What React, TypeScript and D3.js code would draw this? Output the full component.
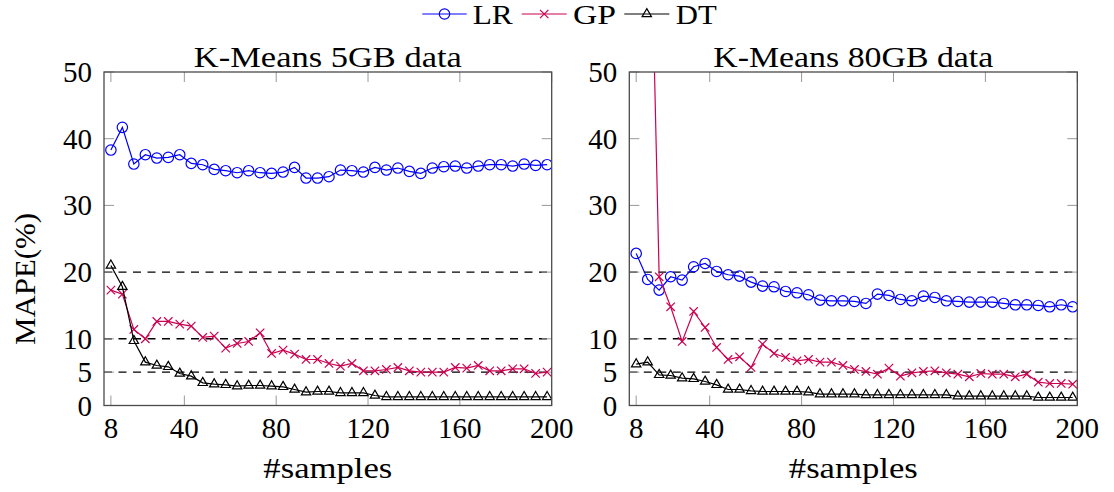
import React from "react";
import * as d3 from "d3";

// ---------- data ----------
const samples = [8, 13, 18, 23, 28, 33, 38, 43, 48, 53, 58, 63, 68, 73, 78, 83, 88, 93, 98, 103, 108, 113, 118, 123, 128, 133, 138, 143, 148, 153, 158, 163, 168, 173, 178, 183, 188, 193, 198];

const lr5GB = [38.3, 41.7, 36.2, 37.6, 37.1, 37.2, 37.6, 36.3, 36.1, 35.4, 35.2, 34.9, 35.2, 34.9, 34.8, 35.0, 35.7, 34.1, 34.1, 34.3, 35.3, 35.2, 35.0, 35.7, 35.3, 35.6, 35.1, 34.8, 35.6, 35.8, 35.9, 35.6, 35.9, 36.1, 36.1, 35.9, 36.2, 36.0, 36.1];
const gp5GB = [17.3, 16.7, 11.4, 10.0, 12.6, 12.6, 12.2, 11.9, 10.2, 10.4, 8.6, 9.3, 9.6, 10.9, 7.8, 8.3, 7.7, 6.9, 6.9, 6.3, 5.9, 6.3, 5.2, 5.2, 5.4, 5.7, 5.2, 5.0, 5.0, 5.0, 5.7, 5.6, 6.0, 5.2, 5.2, 5.5, 5.5, 4.8, 5.0];
const dt5GB = [21.0, 17.8, 9.7, 6.5, 6.0, 5.8, 4.8, 4.4, 3.4, 3.2, 3.1, 2.9, 3.0, 3.0, 2.9, 2.8, 2.4, 2.0, 2.1, 2.1, 1.9, 1.9, 1.9, 1.5, 1.3, 1.3, 1.3, 1.3, 1.3, 1.3, 1.3, 1.3, 1.3, 1.3, 1.3, 1.3, 1.3, 1.3, 1.3];

const lr80GB = [22.8, 18.9, 17.3, 19.3, 18.8, 20.8, 21.3, 20.1, 19.6, 19.4, 18.5, 17.9, 17.8, 17.1, 16.9, 16.6, 15.8, 15.7, 15.7, 15.6, 15.3, 16.7, 16.5, 15.9, 15.7, 16.4, 16.2, 15.7, 15.6, 15.5, 15.5, 15.5, 15.3, 15.1, 15.1, 15.0, 14.8, 15.1, 14.8];
const gp80GB = [120, 95, 19.3, 14.8, 9.6, 14.1, 11.7, 8.7, 6.9, 7.3, 5.7, 9.2, 7.8, 7.2, 6.7, 6.9, 6.5, 6.5, 6.0, 5.4, 5.1, 4.7, 5.6, 4.4, 4.9, 5.1, 5.2, 4.9, 4.7, 4.3, 4.8, 4.7, 4.7, 4.3, 4.7, 3.5, 3.3, 3.3, 3.2];
const dt80GB = [6.2, 6.5, 4.6, 4.5, 4.1, 4.0, 3.6, 3.1, 2.4, 2.4, 2.2, 2.1, 2.1, 2.1, 2.1, 2.0, 1.7, 1.7, 1.7, 1.7, 1.6, 1.6, 1.6, 1.6, 1.6, 1.6, 1.6, 1.6, 1.4, 1.4, 1.4, 1.4, 1.4, 1.4, 1.4, 1.2, 1.2, 1.2, 1.2];

const xTicks = [8, 40, 80, 120, 160, 200];
const yTicks = [0, 5, 10, 20, 30, 40, 50];
const refLines = [5, 10, 20];
const seriesNames = ["LR", "GP", "DT"];
const titles = ["K-Means 5GB data", "K-Means 80GB data"];

// ---------- styling ----------
const W = 1114;
const H = 492;
const TOP = 72;
const BOTTOM = 405.5;
const FONT = "Liberation Serif, DejaVu Serif, Noto Serif, serif";
const COLORS = { LR: "#0000ff", GP: "#cc0050", DT: "#000000" };
const FRAME = "#4a4a4a";
const TICK = "#999999";

const panels = [
  { id: "p1", title: titles[0], left: 104, right: 551.7, titleLen: 268, lr: lr5GB, gp: gp5GB, dt: dt5GB },
  { id: "p2", title: titles[1], left: 629.3, right: 1077.3, titleLen: 280, lr: lr80GB, gp: gp80GB, dt: dt80GB },
];

function Marker({ kind, x, y, color }: { kind: string; x: number; y: number; color: string }) {
  if (kind === "LR") return <circle cx={x} cy={y} r={5.2} fill="none" stroke={color} strokeWidth={1.2} />;
  if (kind === "GP") {
    const s = 4.2;
    return (
      <path
        d={`M${x - s},${y - s}L${x + s},${y + s}M${x - s},${y + s}L${x + s},${y - s}`}
        stroke={color}
        strokeWidth={1.2}
        fill="none"
      />
    );
  }
  const r = 5.4;
  return (
    <path
      d={`M${x},${y - r}L${x + r * 0.866},${y + r / 2}L${x - r * 0.866},${y + r / 2}Z`}
      fill="none"
      stroke={color}
      strokeWidth={1.2}
    />
  );
}

function Panel({ p, showYLabel }: { p: any; showYLabel: boolean }) {
  const x = d3.scaleLinear().domain([5, 200]).range([p.left, p.right]);
  const y = d3.scaleLinear().domain([0, 50]).range([BOTTOM, TOP]);
  const line = d3
    .line<number>()
    .x((_, i) => x(samples[i]))
    .y((d) => y(d));
  const series = [
    { name: "LR", values: p.lr },
    { name: "GP", values: p.gp },
    { name: "DT", values: p.dt },
  ];
  const cx = (p.left + p.right) / 2;
  return (
    <g>
      <defs>
        <clipPath id={`clip-${p.id}`}>
          <rect x={p.left} y={TOP} width={p.right - p.left} height={BOTTOM - TOP} />
        </clipPath>
      </defs>
      {refLines.map((v) => (
        <line
          key={v}
          x1={p.left}
          x2={p.right}
          y1={y(v)}
          y2={y(v)}
          stroke="#000"
          strokeWidth={1.4}
          strokeDasharray="8 6.5"
        />
      ))}
      {xTicks.map((t) => (
        <g key={"xt" + t}>
          <line x1={x(t)} x2={x(t)} y1={BOTTOM} y2={BOTTOM - 10} stroke={TICK} strokeWidth={1} />
          <line x1={x(t)} x2={x(t)} y1={TOP} y2={TOP + 10} stroke={TICK} strokeWidth={1} />
          <text x={x(t)} y={BOTTOM + 32} textAnchor="middle" fontFamily={FONT} fontSize={29} fill="#000">
            {t}
          </text>
        </g>
      ))}
      {yTicks.map((t) => (
        <g key={"yt" + t}>
          <line x1={p.left} x2={p.left + 10} y1={y(t)} y2={y(t)} stroke={TICK} strokeWidth={1} />
          <line x1={p.right} x2={p.right - 10} y1={y(t)} y2={y(t)} stroke={TICK} strokeWidth={1} />
          <text x={p.left - 12} y={y(t) + 10} textAnchor="end" fontFamily={FONT} fontSize={29} fill="#000">
            {t}
          </text>
        </g>
      ))}
      <g clipPath={`url(#clip-${p.id})`}>
        {series.map((s) => (
          <g key={s.name}>
            <path d={line(s.values) || ""} fill="none" stroke={(COLORS as any)[s.name]} strokeWidth={1.2} />
            {s.values.map((v: number, i: number) => (
              <Marker key={i} kind={s.name} x={x(samples[i])} y={y(v)} color={(COLORS as any)[s.name]} />
            ))}
          </g>
        ))}
      </g>
      <rect
        x={p.left}
        y={TOP}
        width={p.right - p.left}
        height={BOTTOM - TOP}
        fill="none"
        stroke={FRAME}
        strokeWidth={1.3}
      />
      <text
        x={cx}
        y={66.5}
        textAnchor="middle"
        fontFamily={FONT}
        fontSize={29}
        textLength={p.titleLen}
        lengthAdjust="spacingAndGlyphs"
        fill="#000"
      >
        {p.title}
      </text>
      <text
        x={cx}
        y={478}
        textAnchor="middle"
        fontFamily={FONT}
        fontSize={29}
        textLength={129}
        lengthAdjust="spacingAndGlyphs"
        fill="#000"
      >
        #samples
      </text>
      {showYLabel && (
        <text
          transform={`translate(35, 279) rotate(-90)`}
          textAnchor="middle"
          fontFamily={FONT}
          fontSize={29}
          textLength={132}
          lengthAdjust="spacingAndGlyphs"
          fill="#000"
        >
          MAPE(%)
        </text>
      )}
    </g>
  );
}

function Legend() {
  const items = [
    { name: seriesNames[0], x1: 422.3, x2: 466.7, tx: 472.7, tl: 40 },
    { name: seriesNames[1], x1: 521.7, x2: 566.7, tx: 573, tl: 43 },
    { name: seriesNames[2], x1: 624.3, x2: 669.3, tx: 675.7, tl: 41 },
  ];
  const ly = 14;
  return (
    <g>
      {items.map((it) => {
        const c = (COLORS as any)[it.name];
        return (
          <g key={it.name}>
            <line x1={it.x1} x2={it.x2} y1={ly} y2={ly} stroke={c} strokeWidth={1.2} />
            <Marker kind={it.name} x={(it.x1 + it.x2) / 2} y={ly} color={c} />
            <text
              x={it.tx}
              y={24}
              fontFamily={FONT}
              fontSize={27}
              textLength={it.tl}
              lengthAdjust="spacingAndGlyphs"
              fill="#000"
            >
              {it.name}
            </text>
          </g>
        );
      })}
    </g>
  );
}

export default function App() {
  return (
    <svg
      width={W}
      height={H}
      viewBox={`0 0 ${W} ${H}`}
      style={{ position: "absolute", left: 0, top: 0, background: "#fff" }}
    >
      <rect x={0} y={0} width={W} height={H} fill="#fff" />
      <Legend />
      {panels.map((p, i) => (
        <Panel key={p.id} p={p} showYLabel={i === 0} />
      ))}
    </svg>
  );
}
